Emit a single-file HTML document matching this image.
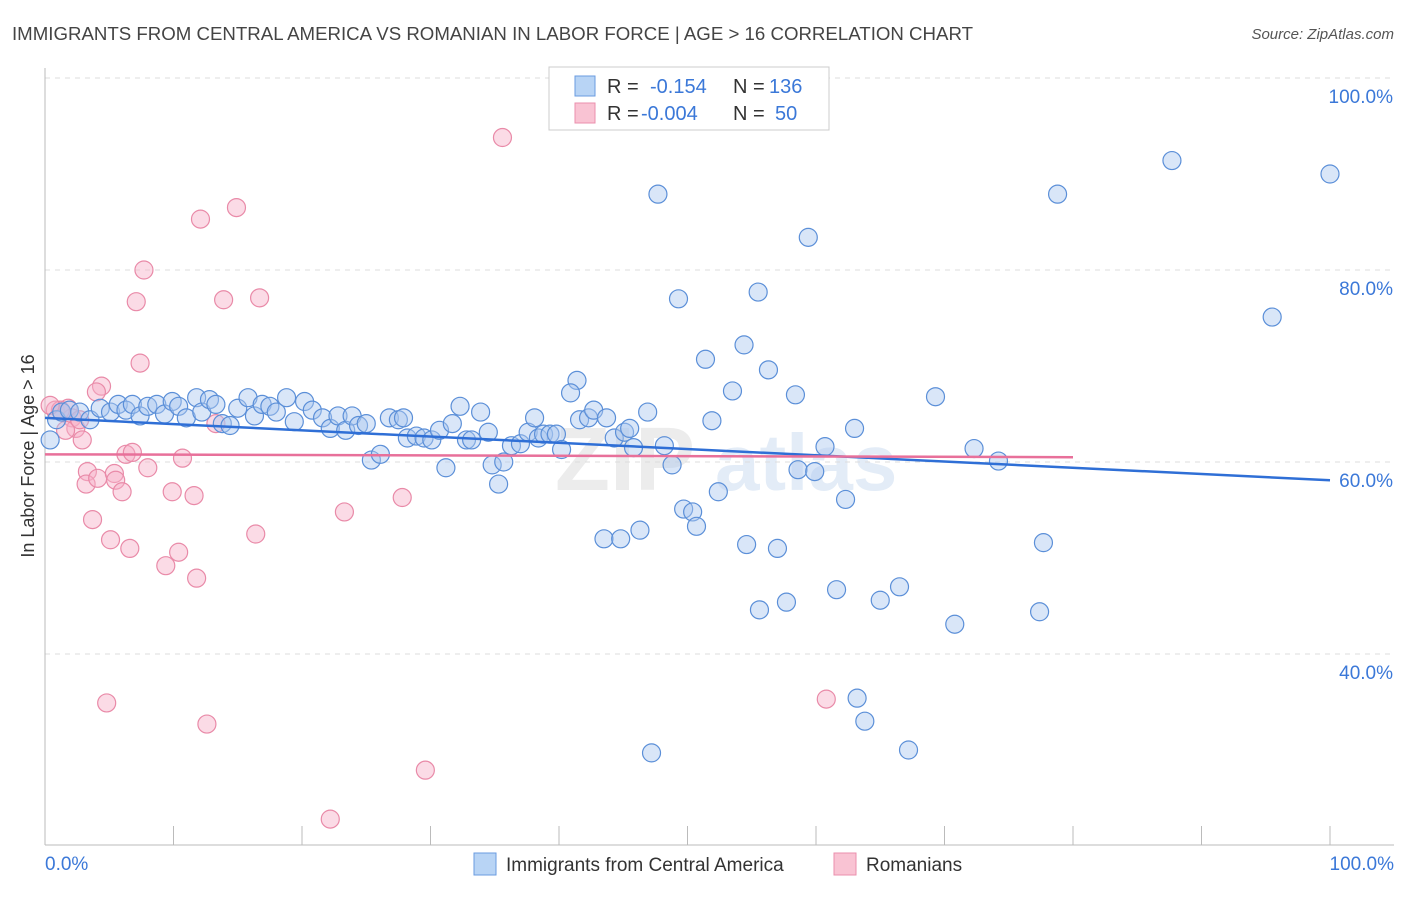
<!DOCTYPE html>
<html><head><meta charset="utf-8"><style>
body{margin:0;background:#fff;font-family:"Liberation Sans",sans-serif}
</style></head><body>
<svg id="chart" width="1406" height="892" xmlns="http://www.w3.org/2000/svg" style="font-family:'Liberation Sans',sans-serif">
<text x="12" y="40" font-size="18" fill="#444" textLength="961" lengthAdjust="spacingAndGlyphs">IMMIGRANTS FROM CENTRAL AMERICA VS ROMANIAN IN LABOR FORCE | AGE &gt; 16 CORRELATION CHART</text>
<text x="1394" y="39" font-size="15" fill="#555" font-style="italic" text-anchor="end">Source: ZipAtlas.com</text>
<text x="555" y="490" font-size="90" fill="#ececec" font-weight="bold">ZIP</text>
<text x="715" y="490" font-size="80" fill="#e3ecf7" font-weight="bold">atlas</text>
<g id="grid"></g><g id="axes"></g><g id="pink"></g><g id="blue"></g><g id="lines"></g>
<g>
<rect x="549" y="67" width="280" height="63" fill="#fff" stroke="#ccc"/>
<rect x="575" y="76" width="20" height="20" fill="#b8d4f5" stroke="#6a9be0"/>
<rect x="575" y="103" width="20" height="20" fill="#f9c3d3" stroke="#eb8fac"/>
<text x="607" y="93" font-size="20" fill="#333">R = </text><text x="650" y="93" font-size="20" fill="#3b78d8">-0.154</text>
<text x="733" y="93" font-size="20" fill="#333">N = </text><text x="769" y="93" font-size="20" fill="#3b78d8">136</text>
<text x="607" y="120" font-size="20" fill="#333">R = </text><text x="641" y="120" font-size="20" fill="#3b78d8">-0.004</text>
<text x="733" y="120" font-size="20" fill="#333">N = </text><text x="775" y="120" font-size="20" fill="#3b78d8">50</text>
</g>
<g>
<rect x="474" y="853" width="22" height="22" fill="#b8d4f5" stroke="#6a9be0"/>
<text x="506" y="871" font-size="19" fill="#333">Immigrants from Central America</text>
<rect x="834" y="853" width="22" height="22" fill="#f9c3d3" stroke="#eb8fac"/>
<text x="866" y="871" font-size="19" fill="#333">Romanians</text>
</g>
<text transform="translate(34,456) rotate(-90)" font-size="18" fill="#333" text-anchor="middle">In Labor Force | Age &gt; 16</text>
</svg>
<script>
const yTicks=[100,80,60,40];
const xTickLabels=["0.0%","100.0%"];
const blueX=[(658),(1172),(1330),(1058),(808),(678),(758),(1272),(706),(744),(769),(732),(796),(936),(577),(570),(648),(712),(855),(825),(974),(999),(665),(672),(798),(815),(845),(718),(684),(693),(697),(640),(604),(621),(747),(778),(1044),(837),(899),(880),(786),(760),(955),(1040),(857),(865),(909),(651),50,56,62,70,80,90,100,110,118,126,133,140,148,157,165,172,178,186,196,202,210,216,222,230,238,248,255,262,270,276,286,294,304,312,322,330,338,346,352,358,366,372,380,390,398,404,408,416,424,432,440,446,452,460,466,472,480,488,492,498,504,512,520,528,534,538,544,550,556,562,580,588,594,606,614,624,630,634].map(p=>+((p-45)/12.85).toFixed(1));
const blueY=[194,161,174,194,237,299,292,317,359,345,370,391,395,397,380,393,412,421,428,447,449,461,446,465,470,472,499,492,509,512,526,530,539,539,545,548,543,590,587,600,602,610,624,612,698,721,750,753,440,420,412,410,412,420,408,412,404,410,404,416,406,404,414,402,406,418,398,412,400,404,424,426,408,398,416,404,406,412,398,422,402,410,418,428,416,430,416,426,424,460,454,418,420,418,438,436,438,440,430,468,424,406,440,440,412,432,465,484,462,446,444,432,418,438,434,434,434,450,420,418,410,418,438,432,428,448].map(p=>+(100-(p-78)/9.6).toFixed(1));
const pinkX=[502,236,200,144,136,224,260,140,102,96,55,62,68,72,76,82,88,86,98,92,110,114,116,122,126,132,130,148,166,172,182,178,194,196,256,344,402,216,107,207,425,330,826,738,60,50,66,80].map(p=>+((p-45)/12.85).toFixed(1));
const pinkY=[138,208,219,270,302,300,298,363,386,392,410,412,408,418,428,440,472,484,478,520,540,474,480,492,454,452,548,468,566,492,458,552,496,578,534,512,498,424,703,724,770,819,699,78,410,405,430,420].map(p=>+(100-(p-78)/9.6).toFixed(1));
const blueTrend=[64.6,58.1];
const pinkTrend=[60.8,60.5,80];
const NS="http://www.w3.org/2000/svg";
const X=v=>45+v*12.85, Y=v=>78+(100-v)*9.6;
function mk(t,a,p){const e=document.createElementNS(NS,t);for(const k in a)e.setAttribute(k,a[k]);document.getElementById(p).appendChild(e);return e;}
yTicks.forEach((t,i)=>{
 const l=mk('line',{x1:45,x2:1394,y1:Y(t),y2:Y(t),stroke:'#ddd','stroke-dasharray':'5,5'},'grid');
 
 
 const tx=mk('text',{x:1393,y:Y(t)+25,'font-size':19,fill:'#3b78d8','text-anchor':'end'},'axes');
 tx.textContent=t.toFixed(1)+'%';
 
 
});
const ax=mk('line',{x1:45,x2:45,y1:68,y2:845,stroke:'#bbb'},'axes');


const bx=mk('line',{x1:45,x2:1394,y1:845,y2:845,stroke:'#bbb'},'axes');


for(let i=0;i<=10;i++){const t=mk('line',{x1:X(i*10),x2:X(i*10),y1:826,y2:845,stroke:'#bbb'},'axes');
 
 }
[[X(0),'start'],[1394,'end']].forEach((p,i)=>{const t=mk('text',{x:p[0],y:870,'font-size':19,fill:'#3b78d8','text-anchor':p[1]},'axes');t.textContent=xTickLabels[i];
 
 });
pinkX.forEach((x,i)=>{const c=mk('circle',{cx:X(x),cy:Y(pinkY[i]),r:9,fill:'rgba(247,176,200,0.45)',stroke:'#e98aa8','stroke-width':1.2},'pink');
 
 });
blueX.forEach((x,i)=>{const c=mk('circle',{cx:X(x),cy:Y(blueY[i]),r:9,fill:'rgba(170,200,240,0.45)',stroke:'#5b8fd8','stroke-width':1.2},'blue');
 
 });
const bl=mk('line',{x1:X(0),y1:Y(blueTrend[0]),x2:X(100),y2:Y(blueTrend[1]),stroke:'#2f6fd6','stroke-width':2.5},'lines');


const pl=mk('line',{x1:X(0),y1:Y(pinkTrend[0]),x2:X(pinkTrend[2]),y2:Y(pinkTrend[1]),stroke:'#e8709a','stroke-width':2.5},'lines');


</script>
</body></html>
